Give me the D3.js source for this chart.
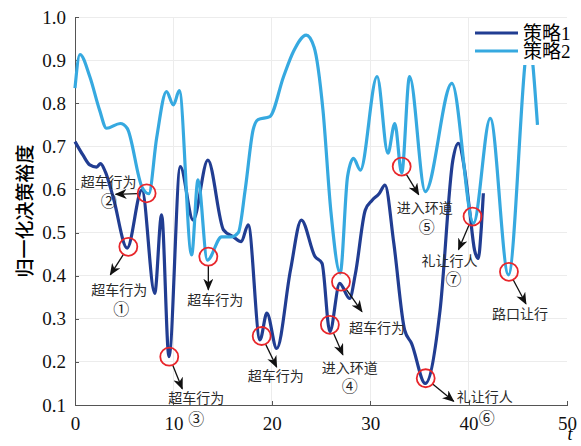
<!DOCTYPE html>
<html lang="zh">
<head>
<meta charset="utf-8">
<title>归一化决策裕度</title>
<script src="https://cdn.jsdelivr.net/npm/d3@7/dist/d3.min.js"></script>
<style>
body { margin: 0; background: #fff; }
svg { display: block; }
.axis path, .axis line { stroke: #555; shape-rendering: crispEdges; }
.axis text { font-family: "Liberation Serif", serif; font-size: 19px; fill: #111; }
.grid line { stroke: #ececec; shape-rendering: crispEdges; }
.note { font-family: "Noto Sans CJK SC", sans-serif; font-size: 14px; fill: #2a2a2a; }
.num { font-family: "Noto Sans CJK SC", sans-serif; font-size: 16px; fill: #222; }
.legend text { font-family: "Liberation Serif", "Noto Sans CJK SC", serif; font-size: 19px; fill: #000; }
</style>
</head>
<body>
<svg width="581" height="446"></svg>
<script>
// 策略1 (dark) — time and normalised decision margin
var t1 = [0, 0.8, 1.5, 2.2, 2.6, 3.1, 3.9, 5.3, 6.8, 8.1, 8.8, 9.55, 10.7, 12.0, 13.5, 15.1, 16.1, 16.9, 17.6, 18.8, 19.5, 20.5, 21.9, 23.0, 24.4, 25.1, 25.9, 26.9, 27.9, 28.5, 29.5, 30.2, 30.9, 31.5, 32.4, 33.5, 34.2, 35.6, 37.1, 38.4, 38.95, 39.6, 40.1, 40.6, 40.98, 41.3, 41.5];
var v1 = [0.711, 0.68, 0.657, 0.652, 0.66, 0.64, 0.58, 0.464, 0.599, 0.359, 0.541, 0.212, 0.653, 0.529, 0.668, 0.506, 0.49, 0.479, 0.518, 0.251, 0.313, 0.231, 0.413, 0.529, 0.444, 0.429, 0.27, 0.382, 0.347, 0.405, 0.552, 0.575, 0.59, 0.61, 0.475, 0.274, 0.243, 0.15, 0.32, 0.668, 0.707, 0.645, 0.552, 0.46, 0.44, 0.514, 0.591];

// 策略2 (light)
var t2 = [0, 0.5, 1.5, 2.5, 3.2, 4.6, 5.3, 6.8, 7.5, 8.3, 9.3, 10.0, 10.6, 11.85, 12.5, 13.45, 14.9, 15.9, 16.6, 17.3, 18.1, 18.6, 19.8, 21.2, 22.2, 23.5, 24.3, 25.2, 26.0, 26.95, 27.7, 28.3, 29.0, 30.7, 31.8, 32.5, 33.2, 34.0, 35.6, 38.3, 40.5, 42.2, 44.05, 45.7, 46.1, 46.55, 47.0];
var v2 = [0.835, 0.913, 0.862, 0.784, 0.742, 0.753, 0.742, 0.606, 0.59, 0.72, 0.827, 0.796, 0.829, 0.448, 0.622, 0.436, 0.49, 0.49, 0.50, 0.60, 0.738, 0.762, 0.769, 0.862, 0.92, 0.958, 0.93, 0.784, 0.55, 0.406, 0.63, 0.672, 0.645, 0.862, 0.684, 0.753, 0.638, 0.862, 0.595, 0.846, 0.522, 0.765, 0.402, 0.885, 0.98, 0.885, 0.75];

var seriesNames = ["策略1", "策略2"];
var seriesColors = ["#213d92", "#36a9e0"];

var xTicks = [0, 10, 20, 30, 40, 50];
var yTicks = [0.1, 0.2, 0.3, 0.4, 0.5, 0.6, 0.7, 0.8, 0.9, 1.0];

// marked events: circle centre (t, v), label, circled number
var markT = [5.42, 7.28, 9.58, 13.55, 18.97, 25.9, 27.03, 33.2, 35.64, 40.4, 44.1];
var markV = [0.467, 0.591, 0.212, 0.444, 0.26, 0.286, 0.386, 0.653, 0.162, 0.537, 0.409];
var markText = ["超车行为", "超车行为", "超车行为", "超车行为", "超车行为", "进入环道", "超车行为", "进入环道", "礼让行人", "礼让行人", "路口让行"];
var markNum = ["①", "②", "③", "", "", "④", "", "⑤", "⑥", "⑦", ""];

// layout offsets (px from circle centre): arrow tip, label centre, number centre
var arrowOff = [[-18, 28], [-31, 1], [13, 32], [0, 33], [15, 31], [13, 30], [21, 30], [17, 28], [28, 23], [-14, 33], [17, 32]];
var labelOff = [[-9, 42], [-38, -12], [27, 40], [7, 42], [14, 39], [20, 42], [36, 45], [23, 40], [59, 18], [-23, 43], [11, 41]];
var numOff = [[-7, 61], [-38, 7], [27, 61], null, null, [20, 60], null, [25, 59], [61, 39], [-19, 61], null];

var svg = d3.select("svg");

var x = d3.scaleLinear().domain([0, 50]).range([75, 567]);
var y = d3.scaleLinear().domain([0.1, 1.0]).range([405, 17]);

// faint grid
var grid = svg.append("g").attr("class", "grid");
grid.selectAll(".gy").data(yTicks.slice(1)).enter().append("line")
  .attr("x1", x(0)).attr("x2", x(50))
  .attr("y1", function(d) { return y(d); }).attr("y2", function(d) { return y(d); });
grid.selectAll(".gx").data(xTicks.slice(1, -1)).enter().append("line")
  .attr("y1", y(0.1)).attr("y2", y(1.0))
  .attr("x1", function(d) { return x(d); }).attr("x2", function(d) { return x(d); });

// axes
svg.append("g")
  .attr("class", "axis")
  .attr("transform", "translate(0," + y(0.1) + ")")
  .call(d3.axisBottom(x).tickValues(xTicks).tickSize(-4).tickSizeOuter(0).tickPadding(9).tickFormat(d3.format("d")))
  .selectAll("text").attr("dy", "0.85em");

svg.append("g")
  .attr("class", "axis")
  .attr("transform", "translate(" + x(0) + ",0)")
  .call(d3.axisLeft(y).tickValues(yTicks).tickSize(-4).tickSizeOuter(0).tickPadding(9).tickFormat(d3.format(".1f")));

svg.append("text")
  .attr("x", 570).attr("y", 440)
  .attr("text-anchor", "middle")
  .style("font-family", "Liberation Serif, serif")
  .style("font-style", "italic")
  .style("font-size", "18px")
  .text("t");

svg.append("text")
  .attr("transform", "translate(23,211) rotate(-90)")
  .attr("text-anchor", "middle")
  .attr("dominant-baseline", "central")
  .style("font-family", "Noto Sans CJK SC, sans-serif")
  .style("font-weight", "500")
  .style("font-size", "19px")
  .text("归一化决策裕度");

// lines
var line = d3.line()
  .x(function(d) { return x(d[0]); })
  .y(function(d) { return y(d[1]); })
  .curve(d3.curveMonotoneX);

var series = [d3.zip(t1, v1), d3.zip(t2, v2)];

svg.selectAll(".series").data(series).enter().append("path")
  .attr("class", "series")
  .attr("d", line)
  .attr("fill", "none")
  .attr("stroke", function(d, i) { return seriesColors[i]; })
  .attr("stroke-width", 3.2)
  .attr("stroke-linejoin", "round");

// arrow marker
svg.append("defs").append("marker")
  .attr("id", "head")
  .attr("viewBox", "0 0 12 10")
  .attr("refX", 11).attr("refY", 5)
  .attr("markerWidth", 12).attr("markerHeight", 10)
  .attr("markerUnits", "userSpaceOnUse")
  .attr("orient", "auto")
  .append("path")
  .attr("d", "M0,0 L12,5 L0,10 L3.5,5 Z")
  .attr("fill", "#111");

var marks = markT.map(function(t, i) {
  return { cx: x(t), cy: y(markV[i]), text: markText[i], num: markNum[i], a: arrowOff[i], l: labelOff[i], n: numOff[i] };
});

var r = 9;
var notes = svg.append("g");

notes.selectAll(".arrow").data(marks).enter().append("line")
  .attr("x1", function(d) { var len = Math.hypot(d.a[0], d.a[1]); return d.cx + d.a[0] / len * r; })
  .attr("y1", function(d) { var len = Math.hypot(d.a[0], d.a[1]); return d.cy + d.a[1] / len * r; })
  .attr("x2", function(d) { return d.cx + d.a[0]; })
  .attr("y2", function(d) { return d.cy + d.a[1]; })
  .attr("stroke", "#111")
  .attr("stroke-width", 1.3)
  .attr("marker-end", "url(#head)");

notes.selectAll(".ring").data(marks).enter().append("circle")
  .attr("cx", function(d) { return d.cx; })
  .attr("cy", function(d) { return d.cy; })
  .attr("r", r)
  .attr("fill", "none")
  .attr("stroke", "#e8262b")
  .attr("stroke-width", 1.8);

notes.selectAll(".note").data(marks).enter().append("text")
  .attr("class", "note")
  .attr("x", function(d) { return d.cx + d.l[0]; })
  .attr("y", function(d) { return d.cy + d.l[1]; })
  .attr("text-anchor", "middle")
  .attr("dominant-baseline", "central")
  .text(function(d) { return d.text; });

notes.selectAll(".num").data(marks.filter(function(d) { return d.num; })).enter().append("text")
  .attr("class", "num")
  .attr("x", function(d) { return d.cx + d.n[0]; })
  .attr("y", function(d) { return d.cy + d.n[1]; })
  .attr("text-anchor", "middle")
  .attr("dominant-baseline", "central")
  .text(function(d) { return d.num; });

// legend (white box hides the peak behind it)
var legend = svg.append("g").attr("class", "legend");
legend.append("rect")
  .attr("x", 470).attr("y", 18).attr("width", 111).attr("height", 47)
  .attr("fill", "#fff");
var item = legend.selectAll(".item").data(seriesNames).enter().append("g")
  .attr("transform", function(d, i) { return "translate(475," + (33 + i * 18) + ")"; });
item.append("line")
  .attr("x1", 0).attr("x2", 43)
  .attr("stroke", function(d, i) { return seriesColors[i]; })
  .attr("stroke-width", 3.2);
item.append("text")
  .attr("x", 48)
  .attr("dominant-baseline", "central")
  .text(function(d) { return d; });
</script>
</body>
</html>
